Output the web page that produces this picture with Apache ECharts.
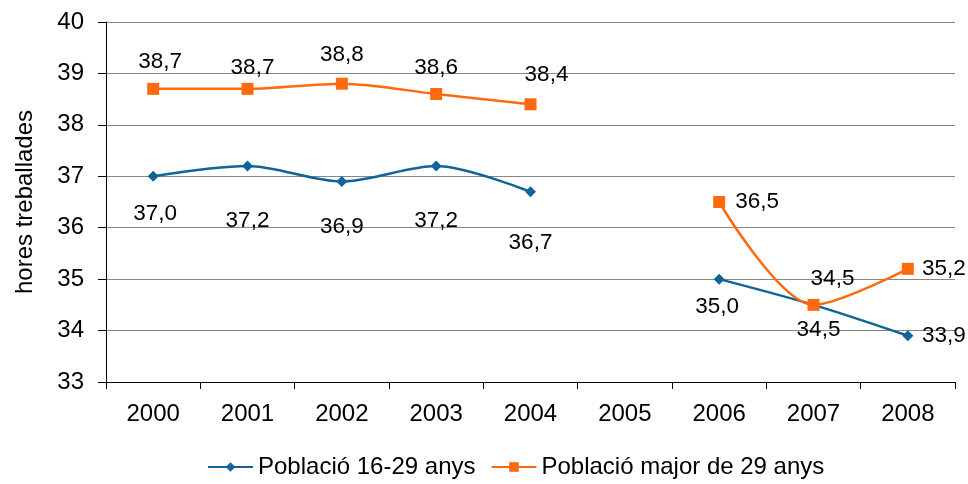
<!DOCTYPE html>
<html><head><meta charset="utf-8">
<script src="https://cdn.jsdelivr.net/npm/echarts@6/dist/echarts.min.js"></script>
<style>html,body{margin:0;padding:0;background:#fff}#c{width:968px;height:484px}</style>
</head><body><div id="c"></div>
<script>
var categories = ['2000','2001','2002','2003','2004','2005','2006','2007','2008'];
var young = [37.0, 37.2, 36.9, 37.2, 36.7, null, 35.0, 34.5, 33.9];
var older = [38.7, 38.7, 38.8, 38.6, 38.4, null, 36.5, 34.5, 35.2];
var seriesNames = ['Població 16-29 anys', 'Població major de 29 anys'];
var yTicks = {min: 33, max: 40, interval: 1};

var youngLabelOffsets = [[2,38],[0,55],[0,45],[0,55],[0,51],[0,0],[-2,28],[5,25],[36,0]];
var olderLabelOffsets = [[7,-27],[5,-21],[0,-29],[0,-26],[16,-29],[0,0],[38,0],[19,-26],[36,0]];

var FONT = 'Liberation Sans, Arial, sans-serif';
function fmt(v){ return v.toFixed(1).replace('.', ','); }
function build(vals, offs){
  return vals.map(function(v,i){
    if (v === null) return null;
    return {value: v, label: {offset: offs[i]}};
  });
}
var chart = echarts.init(document.getElementById('c'));
chart.setOption({
  animation: false,
  grid: {left: 106, right: 13, top: 22, bottom: 102},
  legend: {
    top: 455, left: 207, itemWidth: 45, itemHeight: 12, itemGap: 15, padding: 0,
    textStyle: {fontFamily: FONT, fontSize: 24, color: '#000'},
    data: seriesNames
  },
  xAxis: {
    type: 'category', data: categories, boundaryGap: true,
    axisLine: {lineStyle: {color: '#000', width: 1}},
    axisTick: {show: true, length: 7, lineStyle: {color: '#000'}, alignWithLabel: false},
    axisLabel: {fontFamily: FONT, fontSize: 24, color: '#000', margin: 20},
    splitLine: {show: false}
  },
  yAxis: {
    type: 'value', min: yTicks.min, max: yTicks.max, interval: yTicks.interval,
    name: 'hores treballades', nameLocation: 'middle', nameRotate: 90, nameGap: 69,
    nameTextStyle: {fontFamily: FONT, fontSize: 24, color: '#000'},
    axisLine: {show: true, lineStyle: {color: '#000', width: 1}},
    axisTick: {show: true, length: 8, lineStyle: {color: '#000'}},
    axisLabel: {fontFamily: FONT, fontSize: 24, color: '#000', margin: 22},
    splitLine: {show: true, lineStyle: {color: '#868686', width: 1}}
  },
  series: [
    {
      name: seriesNames[0], type: 'line', smooth: 0.3, connectNulls: false,
      data: build(young, youngLabelOffsets),
      symbol: 'diamond', symbolSize: 11,
      itemStyle: {color: '#10649A'},
      lineStyle: {color: '#10649A', width: 2.5},
      label: {show: true, position: 'inside', fontFamily: FONT, fontSize: 22.5, color: '#000',
        formatter: function(p){ return fmt(p.value); }},
      z: 3
    },
    {
      name: seriesNames[1], type: 'line', smooth: 0.3, connectNulls: false,
      data: build(older, olderLabelOffsets),
      symbol: 'rect', symbolSize: 12,
      itemStyle: {color: '#FF6A10'},
      lineStyle: {color: '#FF6A10', width: 2.5},
      label: {show: true, position: 'inside', fontFamily: FONT, fontSize: 22.5, color: '#000',
        formatter: function(p){ return fmt(p.value); }},
      z: 4
    }
  ]
});
</script></body></html>
